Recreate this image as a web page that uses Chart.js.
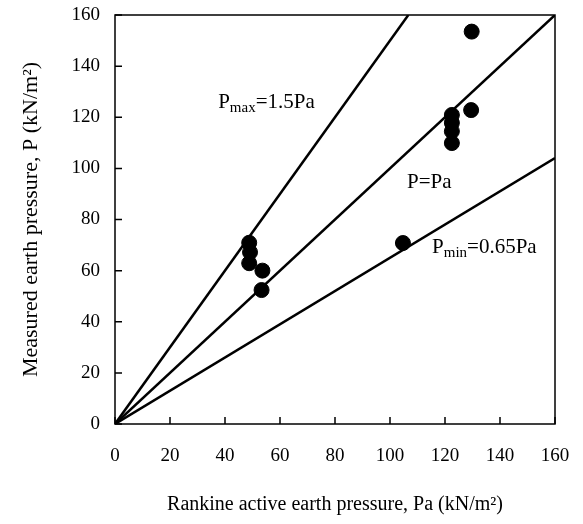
<!DOCTYPE html>
<html lang="en">
<head>
    <meta charset="UTF-8">
    <title>Measured vs Rankine earth pressure</title>
    <script src="https://cdn.jsdelivr.net/npm/chart.js"></script>
    <style>
        html, body { margin: 0; padding: 0; background: #fff; }
        .chart-container { width: 583px; height: 524px; }
    </style>
</head>
<body>
    <div class="chart-container">
        <canvas id="chart"></canvas>
    </div>

    <script>
        // measured points (Pa, P)
        const measuredPa = [48.8, 49.1, 48.8, 53.6, 53.3, 104.7, 122.5, 122.5, 122.5, 122.5, 129.5, 129.7];
        const measuredP  = [70.9, 67.2, 62.9, 60.0, 52.4, 70.8, 120.9, 117.8, 114.5, 109.9, 122.8, 153.5];

        // reference lines P = k * Pa
        const lineFactors = [1.5, 1.0, 0.65];
        const lineLabels = [
            { main: 'P', sub: 'max', rest: '=1.5Pa', x: 37.5, y: 123.6 },
            { main: 'P=Pa', sub: '', rest: '', x: 106.2, y: 92.3 },
            { main: 'P', sub: 'min', rest: '=0.65Pa', x: 115.3, y: 66.9 }
        ];

        const xTicks = [0, 20, 40, 60, 80, 100, 120, 140, 160];
        const yTicks = [0, 20, 40, 60, 80, 100, 120, 140, 160];
        const axisMax = 160;

        const font = '"Liberation Serif", "Times New Roman", serif';

        function lineData(k) {
            // straight line from origin to where it leaves the box
            const xEnd = Math.min(axisMax, axisMax / k);
            return [{ x: 0, y: 0 }, { x: xEnd, y: k * xEnd }];
        }

        const frame = {
            id: 'frame',
            afterDraw(chart) {
                const c = chart.ctx;
                const a = chart.chartArea;
                const xs = chart.scales.x, ys = chart.scales.y;
                c.save();
                c.strokeStyle = '#000';
                c.lineWidth = 1.5;
                c.strokeRect(a.left, a.top, a.right - a.left, a.bottom - a.top);
                c.beginPath();
                xTicks.forEach(v => {
                    const px = xs.getPixelForValue(v);
                    c.moveTo(px, a.bottom);
                    c.lineTo(px, a.bottom - 7);
                });
                yTicks.forEach(v => {
                    const py = ys.getPixelForValue(v);
                    c.moveTo(a.left, py);
                    c.lineTo(a.left + 7, py);
                });
                c.stroke();

                // line labels with subscripts
                c.fillStyle = '#000';
                c.textBaseline = 'alphabetic';
                lineLabels.forEach(l => {
                    let px = xs.getPixelForValue(l.x);
                    const py = ys.getPixelForValue(l.y);
                    c.font = '21px ' + font;
                    c.fillText(l.main, px, py);
                    px += c.measureText(l.main).width;
                    if (l.sub) {
                        c.font = '15px ' + font;
                        c.fillText(l.sub, px, py + 4);
                        px += c.measureText(l.sub).width;
                    }
                    c.font = '21px ' + font;
                    c.fillText(l.rest, px, py);
                });
                c.restore();
            }
        };

        const datasets = lineFactors.map(k => ({
            type: 'line',
            data: lineData(k),
            borderColor: '#000',
            borderWidth: 2.5,
            pointRadius: 0,
            fill: false
        }));
        datasets.push({
            type: 'scatter',
            data: measuredPa.map((x, i) => ({ x: x, y: measuredP[i] })),
            backgroundColor: '#000',
            borderColor: '#000',
            pointRadius: 7.5,
            pointHoverRadius: 7.5
        });

        const ctx = document.getElementById('chart').getContext('2d');
        new Chart(ctx, {
            data: { datasets: datasets },
            options: {
                responsive: true,
                maintainAspectRatio: false,
                animation: false,
                layout: { padding: { top: 15, right: 28, left: 0, bottom: 0 } },
                plugins: { legend: { display: false }, tooltip: { enabled: false } },
                scales: {
                    x: {
                        type: 'linear',
                        min: 0,
                        max: axisMax,
                        afterBuildTicks: s => { s.ticks = xTicks.map(v => ({ value: v })); },
                        afterFit: s => { s.height = 100; s.paddingLeft = 0; s.paddingRight = 0; },
                        grid: { display: false, drawTicks: false },
                        border: { display: false },
                        ticks: { color: '#000', padding: 21, maxRotation: 0, font: { family: font, size: 19 } },
                        title: {
                            display: true,
                            text: 'Rankine active earth pressure, Pa (kN/m\u00B2)',
                            color: '#000',
                            padding: { top: 10, bottom: 7 },
                            font: { family: font, size: 20 }
                        }
                    },
                    y: {
                        type: 'linear',
                        min: 0,
                        max: axisMax,
                        afterBuildTicks: s => { s.ticks = yTicks.map(v => ({ value: v })); },
                        afterFit: s => { s.width = 115; s.paddingTop = 0; s.paddingBottom = 0; },
                        grid: { display: false, drawTicks: false },
                        border: { display: false },
                        ticks: { color: '#000', padding: 15, font: { family: font, size: 19 } },
                        title: {
                            display: true,
                            text: 'Measured earth pressure, P (kN/m\u00B2)',
                            color: '#000',
                            padding: { top: 18, bottom: 4 },
                            font: { family: font, size: 22 }
                        }
                    }
                }
            },
            plugins: [frame]
        });
    </script>
</body>
</html>
